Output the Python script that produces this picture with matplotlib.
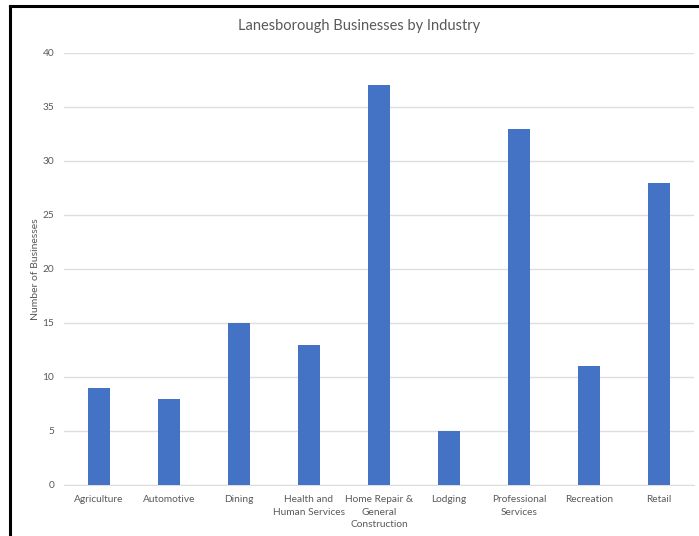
import matplotlib
matplotlib.use("Agg")
import matplotlib.pyplot as plt
from matplotlib.lines import Line2D

categories = ["Agriculture", "Automotive", "Dining", "Health and\nHuman Services",
              "Home Repair &\nGeneral\nConstruction", "Lodging", "Professional\nServices",
              "Recreation", "Retail"]
values = [9, 8, 15, 13, 37, 5, 33, 11, 28]
yticks = [0, 5, 10, 15, 20, 25, 30, 35, 40]

plt.rcParams['font.family'] = ['Lato', 'DejaVu Sans']
W, H = 699, 536
fig = plt.figure(figsize=(W/100, H/100), dpi=100)
ax = fig.add_axes([64/W, 1-485/H, (694-64)/W, (485-53)/H])

text_color = "#595959"
grid_color = "#DEDEDE"
x = list(range(len(categories)))
ax.bar(x, values, width=0.32, color="#4472C4", zorder=3)
ax.set_xlim(-0.5, len(categories)-0.5)
ax.set_ylim(0, 40)
ax.set_yticks(yticks)
ax.yaxis.grid(True, color=grid_color, linewidth=1, zorder=0)
ax.set_xticks(x)
ax.set_xticklabels(categories, fontsize=7.3, color=text_color, linespacing=1.55)
ax.tick_params(axis='y', labelsize=7.3, colors=text_color, length=0, pad=7)
ax.tick_params(axis='x', length=0, pad=7, colors=text_color)
for s in ["top", "right", "left"]:
    ax.spines[s].set_visible(False)
ax.spines["bottom"].set_color(grid_color)
ax.set_ylabel("Number of Businesses", fontsize=7.5, color=text_color, labelpad=1)
ax.yaxis.set_label_coords(-(64-40)/(694-64), 0.5)
fig.text(359/W, 1-26/H, "Lanesborough Businesses by Industry", ha="center", va="center",
         fontsize=10.5, color=text_color)

# black frame lines (left and top)
fig.add_artist(Line2D([9.5/W, 9.5/W], [0, 1-6/H], color="black", linewidth=2.2, transform=fig.transFigure))
fig.add_artist(Line2D([9.5/W, 1], [1-6/H, 1-6/H], color="black", linewidth=2.2, transform=fig.transFigure))

fig.savefig("out.png", dpi=100)
